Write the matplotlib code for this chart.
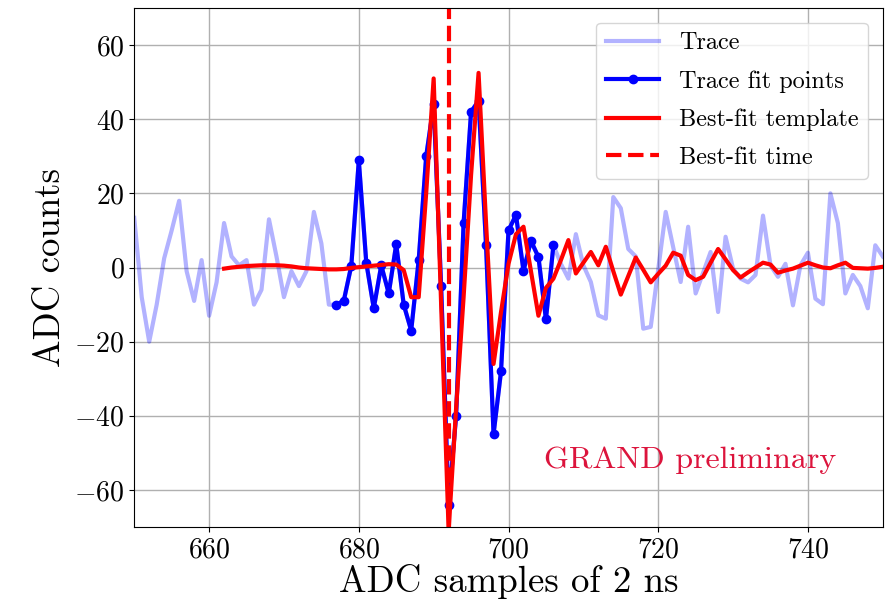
import numpy as np
import matplotlib
matplotlib.use("Agg")
import matplotlib.pyplot as plt

plt.rcParams["font.family"] = "serif"
plt.rcParams["font.serif"] = ["cmr10"]
plt.rcParams["mathtext.fontset"] = "cm"
plt.rcParams["axes.formatter.use_mathtext"] = True
plt.rcParams["axes.unicode_minus"] = True

# ── data ──────────────────────────────────────────────────────────────────────
trace_start = 650
trace_adc = [
    13.4, -8, -20, -10, 2.5, 10, 18, -1, -9, 2,          # 650-659
    -13, -4, 12, 3, 0.6, 2, -10, -6, 13, 3,              # 660-669
    -8, -1, -5, -1, 15, 6.5, -10, -10.1, -8.9, 0.5,      # 670-679
    28.9, 1.3, -11, 0.6, -7, 6.3, -10, -17, 2, 30,       # 680-689
    44, -5.1, -64, -40, 12, 42, 45, 6, -45, -28,         # 690-699
    10, 14.2, -0.9, 7.2, 2.8, -14, 6, 1, -3, 9,          # 700-709
    0.6, -3.9, -12.9, -13.8, 19, 16, 5, 3, -16.5, -16,   # 710-719
    -0.5, 15, 5.5, -3.9, 11, -7, -1.4, 4.2, -12, 8.3,    # 720-729
    -0.3, -3, -4, -2, 14, 0.6, -2.5, 1, -10.2, 0.6,      # 730-739
    4, -8.4, -9.9, 20, 12, -7, -2, -5, -11, 6,           # 740-749
    3,                                                   # 750
]
fit_first, fit_last = 677, 706

template_start = 662
template_adc = [
    -0.3, 0, 0.2, 0.4, 0.5, 0.6, 0.6, 0.6,               # 662-669
    0.5, 0.3, 0, -0.2, -0.3, -0.4, -0.5, -0.5, -0.4, -0.1,  # 670-679
    0.1, 0.3, 0.5, 0.7, 0.9, 0.8, -0.7, -8, -8, 20,      # 680-689
    51, -10, -71, -38, -8, 25, 52.5, 12, -26, -12,       # 690-699
    1, 9, 11, -1, -13, -5.5, -3, 2, 7.4, -1.6,           # 700-709
    1.3, 4.2, 0.6, 5.6, -1, -7.3, -2.3, 2.7, -0.6, -4,   # 710-719
    -1.7, 0.5, 4, 3.2, -2, -3.4, -2.5, 1.3, 5, 2.2,      # 720-729
    -0.7, -2.7, -1.3, 0, 1.3, 0.8, -1.4, -0.8, -0.3, 0.5,  # 730-739
    1.3, 0.6, 0, -0.2, 0.6, 1.3, -0.1, -0.2, -0.3, -0.1,   # 740-749
    0.2,                                                 # 750
]
best_fit_time = 692

trace_x = np.arange(trace_start, trace_start + len(trace_adc))
trace_y = np.array(trace_adc)
fit_mask = (trace_x >= fit_first) & (trace_x <= fit_last)
tmpl_x = np.arange(template_start, template_start + len(template_adc))
tmpl_y = np.array(template_adc)

# ── plot ──────────────────────────────────────────────────────────────────────
fig = plt.figure(figsize=(8.89, 6.15), dpi=100)
ax = fig.add_axes([0.151, 0.143, 0.842, 0.844])

ax.plot(trace_x, trace_y, color="blue", alpha=0.3, lw=3, label="Trace")
ax.plot(trace_x[fit_mask], trace_y[fit_mask], color="blue", lw=3,
        marker="o", ms=6, label="Trace fit points")
ax.plot(tmpl_x, tmpl_y, color="red", lw=3, label="Best-fit template")
ax.axvline(best_fit_time, color="red", lw=3, ls="--", label="Best-fit time")

ax.text(704.7, -52, "GRAND preliminary", color="crimson", fontsize=23,
        va="center", ha="left")

ax.set_xlim(650, 750)
ax.set_ylim(-70, 70)
ax.set_xticks([660, 680, 700, 720, 740])
ax.set_yticks([-60, -40, -20, 0, 20, 40, 60])
ax.tick_params(labelsize=20)
ax.set_xlabel("ADC samples of 2 ns", fontsize=26.5, labelpad=1)
ax.set_ylabel("ADC counts", fontsize=26.5, labelpad=5)
ax.grid(True, color="#b0b0b0", lw=1)
ax.legend(loc="upper right", fontsize=17.5, handlelength=2.2,
          labelspacing=0.65, borderaxespad=0.6)

fig.savefig("out.png", dpi=100)
